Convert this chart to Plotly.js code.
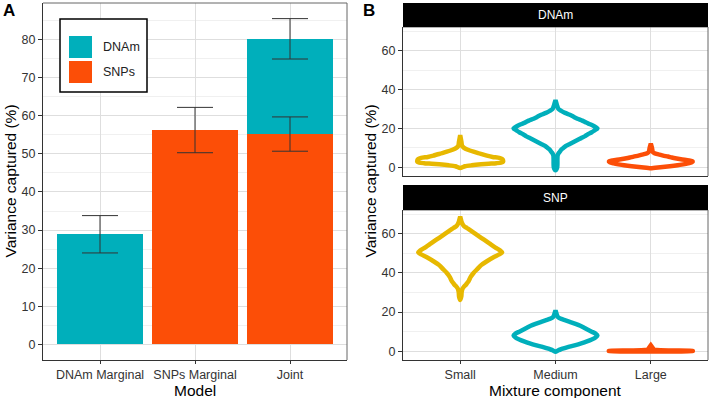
<!DOCTYPE html>
<html>
<head>
<meta charset="utf-8">
<script src="https://cdn.plot.ly/plotly-3.0.1.min.js"></script>
<style>html,body{margin:0;padding:0;background:#fff;} #chart{width:709px;height:398px;}</style>
</head>
<body>
<div id="chart"></div>
<script>
// ---------- Panel A data ----------
const models = ['DNAm Marginal', 'SNPs Marginal', 'Joint'];
const snpBarX = ['SNPs Marginal', 'Joint'];
const snpBarVal = [56.2, 55.3];
const dnamBarX = ['DNAm Marginal', 'Joint'];
const dnamBarVal = [28.9, 24.9];
const errX = ['DNAm Marginal', 'SNPs Marginal', 'Joint', 'Joint'];
const errMid = [28.9, 56.2, 55.3, 80.2];
const errLo = [24.0, 50.3, 50.7, 74.9];
const errHi = [33.8, 62.2, 59.7, 85.5];
const legendLabels = ['DNAm', 'SNPs'];

// ---------- Panel B data (violin outlines: value level -> half width) ----------
const components = ['Small', 'Medium', 'Large'];
const facets = ['DNAm', 'SNP'];
const dnamSmallY = [-0.4, 0.5, 1, 1.5, 1.8, 2.1, 2.4, 2.8, 3.5, 4.2, 4.8, 5.3, 6, 7, 8, 9, 10, 11, 13, 16.5];
const dnamSmallW = [0, 0.05, 0.12, 0.22, 0.3, 0.38, 0.43, 0.45, 0.45, 0.44, 0.41, 0.34, 0.28, 0.21, 0.14, 0.08, 0.04, 0.02, 0.013, 0];
const dnamMediumY = [-1.5, 0, 2, 4, 6, 7, 8, 9, 10, 11, 12, 13, 14, 15, 16, 17, 18, 19, 20, 21, 22, 23, 24, 25, 26, 27, 28, 29, 30, 32, 34.5];
const dnamMediumW = [0, 0.018, 0.02, 0.02, 0.022, 0.03, 0.045, 0.06, 0.085, 0.11, 0.15, 0.19, 0.23, 0.27, 0.31, 0.34, 0.38, 0.41, 0.44, 0.41, 0.37, 0.32, 0.28, 0.23, 0.19, 0.15, 0.1, 0.06, 0.03, 0.015, 0];
const dnamLargeY = [-0.5, 0, 0.5, 1, 1.5, 2, 2.5, 3, 3.5, 4, 4.5, 5, 5.5, 6, 6.5, 7, 7.5, 8, 10, 12.2];
const dnamLargeW = [0, 0.1, 0.2, 0.28, 0.34, 0.39, 0.43, 0.44, 0.4, 0.33, 0.27, 0.22, 0.18, 0.13, 0.09, 0.05, 0.03, 0.02, 0.012, 0];
const snpSmallY = [26.2, 28, 30, 32, 33, 34, 35, 36, 38, 40, 42, 44, 46, 48, 49.5, 50.5, 51.5, 53, 55, 57, 59, 61, 62, 63, 64, 65, 66, 68.8];
const snpSmallW = [0, 0.012, 0.015, 0.025, 0.04, 0.06, 0.075, 0.09, 0.11, 0.14, 0.18, 0.22, 0.28, 0.35, 0.41, 0.44, 0.42, 0.37, 0.31, 0.25, 0.19, 0.13, 0.1, 0.07, 0.04, 0.025, 0.015, 0];
const snpMediumY = [-0.3, 0.5, 1, 2, 3, 4, 5, 6, 7, 8, 9, 10, 11, 12, 13, 14, 15, 16, 16.7, 17.5, 18.5, 20.8];
const snpMediumW = [0, 0.03, 0.06, 0.12, 0.2, 0.27, 0.33, 0.38, 0.42, 0.44, 0.42, 0.38, 0.34, 0.3, 0.26, 0.21, 0.15, 0.09, 0.05, 0.025, 0.015, 0];
const snpLargeY = [-0.1, 0, 0.2, 0.35, 0.6, 1, 2, 3];
const snpLargeW = [0, 0.44, 0.44, 0.2, 0.06, 0.03, 0.015, 0];

const COL_TEAL = '#00AFBB', COL_ORANGE = '#FC4E07', COL_YELLOW = '#E7B800';
const compColors = [COL_YELLOW, COL_TEAL, COL_ORANGE];

const W = 709, H = 398;
const px = v => v / W, py = v => 1 - v / H;

// Panel geometry (pixels)
const A = {x0: 43, x1: 347, y0: 3, y1: 360};
const B = {x0: 403, x1: 708};
const Btop = {y0: 27, y1: 176, s0: 3};
const Bbot = {y0: 210, y1: 360, s0: 185};

const traces = [];
traces.push({type: 'bar', x: snpBarX, y: snpBarVal, marker: {color: COL_ORANGE, line: {width: 0}}, width: 0.9, xaxis: 'x', yaxis: 'y', hoverinfo: 'skip'});
traces.push({type: 'bar', x: dnamBarX, y: dnamBarVal, marker: {color: COL_TEAL, line: {width: 0}}, width: 0.9, xaxis: 'x', yaxis: 'y', hoverinfo: 'skip'});
traces.push({
  type: 'scatter', mode: 'markers', x: errX, y: errMid,
  marker: {size: 1, color: 'rgba(0,0,0,0)'},
  error_y: {type: 'data', symmetric: false,
    array: errHi.map((h, i) => h - errMid[i]),
    arrayminus: errLo.map((l, i) => errMid[i] - l),
    color: '#333333', thickness: 1, width: 18},
  xaxis: 'x', yaxis: 'y', hoverinfo: 'skip'
});

function violin(idx, ys, ws, color, xa, ya) {
  const xs = [], yy = [];
  for (let i = 0; i < ys.length; i++) { xs.push(idx + ws[i]); yy.push(ys[i]); }
  for (let i = ys.length - 1; i >= 0; i--) { xs.push(idx - ws[i]); yy.push(ys[i]); }
  return {type: 'scatter', mode: 'lines', x: xs, y: yy,
    line: {color: color, width: 4.5, shape: 'spline', smoothing: 0.6},
    xaxis: xa, yaxis: ya, hoverinfo: 'skip'};
}
traces.push(violin(0, dnamSmallY, dnamSmallW, compColors[0], 'x2', 'y2'));
traces.push(violin(1, dnamMediumY, dnamMediumW, compColors[1], 'x2', 'y2'));
traces.push(violin(2, dnamLargeY, dnamLargeW, compColors[2], 'x2', 'y2'));
traces.push(violin(0, snpSmallY, snpSmallW, compColors[0], 'x3', 'y3'));
traces.push(violin(1, snpMediumY, snpMediumW, compColors[1], 'x3', 'y3'));
traces.push(violin(2, snpLargeY, snpLargeW, compColors[2], 'x3', 'y3'));

const GRID = '#dedede', MINOR = '#f0f0f0', AXC = '#333333';
const tickFont = {size: 12.5, color: '#333333', family: 'Liberation Sans, Arial, sans-serif'};
const baseY = {showgrid: true, gridcolor: GRID, gridwidth: 1, zeroline: false, ticks: 'outside', ticklen: 4, tickcolor: AXC,
  showline: true, linecolor: AXC, linewidth: 1, tickfont: tickFont, fixedrange: true};
const baseX = {showgrid: true, gridcolor: GRID, gridwidth: 1, zeroline: false, ticks: 'outside', ticklen: 3, tickcolor: AXC,
  showline: true, linecolor: AXC, linewidth: 1, tickfont: tickFont, fixedrange: true};

const layout = {
  width: W, height: H, margin: {l: 0, r: 0, t: 0, b: 0},
  paper_bgcolor: '#ffffff', plot_bgcolor: '#ffffff', showlegend: false, barmode: 'stack',
  font: {family: 'Liberation Sans, Arial, sans-serif', color: '#333333', size: 12},
  xaxis: Object.assign({}, baseX, {domain: [px(A.x0), px(A.x1)], anchor: 'y', type: 'category',
    categoryorder: 'array', categoryarray: models, range: [-0.6, 2.6]}),
  yaxis: Object.assign({}, baseY, {domain: [py(A.y1), py(A.y0)], anchor: 'x', range: [-4.1, 89.6], tick0: 0, dtick: 10,
    minor: {tick0: 0, dtick: 5, showgrid: true, gridcolor: MINOR, gridwidth: 1}}),
  xaxis2: Object.assign({}, baseX, {domain: [px(B.x0), px(B.x1)], anchor: 'y2', range: [-0.6, 2.6],
    tickmode: 'array', tickvals: [0, 1, 2], ticktext: components, showticklabels: false, ticks: ''}),
  yaxis2: Object.assign({}, baseY, {domain: [py(Btop.y1), py(Btop.y0)], anchor: 'x2', range: [-4.5, 72.2], tick0: 0, dtick: 20,
    minor: {tick0: 0, dtick: 10, showgrid: true, gridcolor: MINOR, gridwidth: 1}}),
  xaxis3: Object.assign({}, baseX, {domain: [px(B.x0), px(B.x1)], anchor: 'y3', range: [-0.6, 2.6],
    tickmode: 'array', tickvals: [0, 1, 2], ticktext: components}),
  yaxis3: Object.assign({}, baseY, {domain: [py(Bbot.y1), py(Bbot.y0)], anchor: 'x3', range: [-4.5, 72.2], tick0: 0, dtick: 20,
    minor: {tick0: 0, dtick: 10, showgrid: true, gridcolor: MINOR, gridwidth: 1}}),
  shapes: [], annotations: []
};

// panel borders (top/right)
function border(x0, x1, y0, y1) {
  layout.shapes.push({type: 'line', xref: 'paper', yref: 'paper', x0: px(x0), x1: px(x1), y0: py(y0), y1: py(y0), line: {color: '#666', width: 1}, layer: 'above'});
  layout.shapes.push({type: 'line', xref: 'paper', yref: 'paper', x0: px(x1), x1: px(x1), y0: py(y0), y1: py(y1), line: {color: '#666', width: 1}, layer: 'above'});
}
border(A.x0, A.x1, A.y0, A.y1);
border(B.x0, B.x1, Btop.y0, Btop.y1);
border(B.x0, B.x1, Bbot.y0, Bbot.y1);

// strips
[[Btop.s0, Btop.y0, facets[0]], [Bbot.s0, Bbot.y0, facets[1]]].forEach(s => {
  layout.shapes.push({type: 'rect', xref: 'paper', yref: 'paper', x0: px(B.x0), x1: px(B.x1), y0: py(s[1]), y1: py(s[0]),
    fillcolor: '#000000', line: {width: 0}, layer: 'above'});
  layout.annotations.push({xref: 'paper', yref: 'paper', x: px((B.x0 + B.x1) / 2), y: py((s[0] + s[1]) / 2),
    text: s[2], showarrow: false, xanchor: 'center', yanchor: 'middle', font: {size: 12, color: '#ffffff'}});
});

// legend (panel A)
layout.shapes.push({type: 'rect', xref: 'paper', yref: 'paper', x0: px(60), x1: px(147), y0: py(92), y1: py(19),
  fillcolor: '#ffffff', line: {color: '#000000', width: 1.5}, layer: 'above'});
[[36, 58, COL_TEAL, legendLabels[0]], [61, 83, COL_ORANGE, legendLabels[1]]].forEach(k => {
  layout.shapes.push({type: 'rect', xref: 'paper', yref: 'paper', x0: px(69), x1: px(92), y0: py(k[1]), y1: py(k[0]),
    fillcolor: k[2], line: {width: 0}, layer: 'above'});
  layout.annotations.push({xref: 'paper', yref: 'paper', x: px(101), y: py((k[0] + k[1]) / 2), text: k[3], showarrow: false,
    xanchor: 'left', yanchor: 'middle', font: {size: 12.5, color: '#222'}});
});

// titles and panel tags
const ann = (x, y, text, size, opts) => layout.annotations.push(Object.assign({xref: 'paper', yref: 'paper', x: px(x), y: py(y), text: text,
  showarrow: false, xanchor: 'center', yanchor: 'middle', font: {size: size, color: '#000000'}}, opts || {}));
ann(10, 181.5, 'Variance captured (%)', 15.5, {textangle: -90});
ann(370, 181.5, 'Variance captured (%)', 15.5, {textangle: -90});
ann(195, 390, 'Model', 15.5);
ann(555.5, 390, 'Mixture component', 15.5);
ann(1, 11, '<b>A</b>', 17, {xanchor: 'left'});
ann(361, 11, '<b>B</b>', 17, {xanchor: 'left'});

Plotly.newPlot('chart', traces, layout, {staticPlot: true, displayModeBar: false});
</script>
</body>
</html>
